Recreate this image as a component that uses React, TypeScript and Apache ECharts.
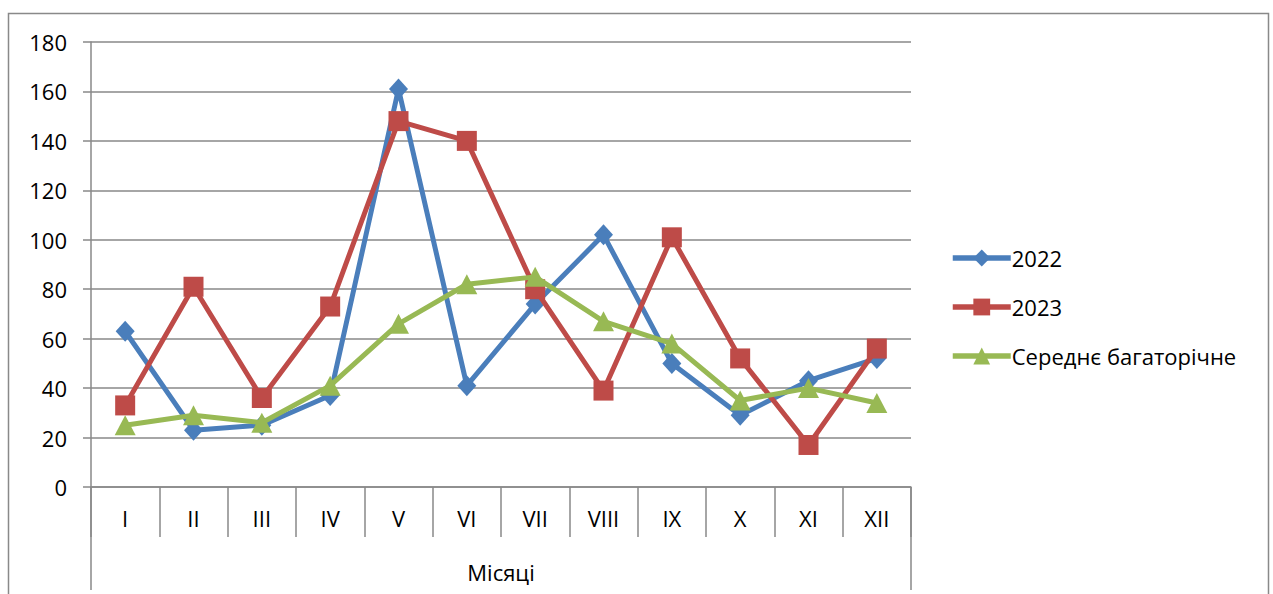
import React, { useEffect, useRef } from "react";
import * as echarts from "echarts";

const months = ["I", "II", "III", "IV", "V", "VI", "VII", "VIII", "IX", "X", "XI", "XII"];
const values2022 = [63, 23, 25, 37, 161, 41, 74, 102, 50, 29, 43, 52];
const values2023 = [33, 81, 36, 73, 148, 140, 80, 39, 101, 52, 17, 56];
const valuesAvg = [25, 29, 26, 41, 66, 82, 85, 67, 58, 35, 40, 34];
const seriesNames = ["2022", "2023", "Середнє багаторічне"];
const axisName = "Місяці";

const FONT = "'Open Sans', 'Noto Sans', sans-serif";
const FONT_SIZE = 22;
const GRAY = "#898989";

export default function App() {
  const ref = useRef<HTMLDivElement>(null);

  useEffect(() => {
    if (!ref.current) return;
    const chart = echarts.init(ref.current, null, { renderer: "svg" });
    const gridLeft = 91;
    const gridRight = 911;
    const gridTop = 42;
    const gridBottom = 487;

    chart.setOption({
      animation: false,
      backgroundColor: "#fff",
      textStyle: { fontFamily: FONT },
      grid: {
        left: gridLeft,
        top: gridTop,
        width: gridRight - gridLeft,
        height: gridBottom - gridTop,
        containLabel: false,
      },
      legend: {
        orient: "vertical",
        left: 945,
        top: 242,
        itemWidth: 58,
        itemHeight: 21,
        itemGap: 27,
        lineStyle: { width: 5.5 },
        textStyle: { fontFamily: FONT, fontSize: FONT_SIZE, color: "#000", padding: [0, 0, 0, -4] },
        data: seriesNames,
      },
      xAxis: {
        type: "category",
        data: months,
        boundaryGap: true,
        name: axisName,
        nameLocation: "middle",
        nameGap: 74,
        nameTextStyle: { fontFamily: FONT, fontSize: FONT_SIZE, color: "#000" },
        axisLine: { show: true, lineStyle: { color: GRAY, width: 1.5 } },
        axisTick: { show: true, length: 50, lineStyle: { color: GRAY, width: 1.5 } },
        axisLabel: { fontFamily: FONT, fontSize: FONT_SIZE, color: "#000", margin: 20 },
        splitLine: { show: false },
      },
      yAxis: {
        type: "value",
        min: 0,
        max: 180,
        interval: 20,
        axisLine: { show: true, lineStyle: { color: GRAY, width: 1.5 } },
        axisTick: { show: true, length: 8, lineStyle: { color: GRAY, width: 1.5 } },
        axisLabel: { fontFamily: FONT, fontSize: FONT_SIZE, color: "#000", margin: 24 },
        splitLine: { show: true, lineStyle: { color: GRAY, width: 1.5 } },
      },
      graphic: [
        {
          type: "rect",
          shape: { x: 8.5, y: 13.5, width: 1260, height: 700 },
          style: { fill: "none", stroke: GRAY, lineWidth: 1.5 },
          silent: true,
        },
        {
          type: "line",
          shape: { x1: gridLeft, y1: gridBottom, x2: gridLeft, y2: 590 },
          style: { stroke: GRAY, lineWidth: 1.5 },
          silent: true,
        },
        {
          type: "line",
          shape: { x1: gridRight, y1: gridBottom, x2: gridRight, y2: 590 },
          style: { stroke: GRAY, lineWidth: 1.5 },
          silent: true,
        },
      ],
      series: [
        {
          name: seriesNames[0],
          type: "line",
          data: values2022,
          symbol: "diamond",
          symbolSize: [19, 21],
          lineStyle: { color: "#4a7ebb", width: 5 },
          itemStyle: { color: "#4a7ebb" },
          z: 2,
        },
        {
          name: seriesNames[1],
          type: "line",
          data: values2023,
          symbol: "rect",
          symbolSize: 20,
          lineStyle: { color: "#be4b48", width: 5 },
          itemStyle: { color: "#be4b48" },
          z: 3,
        },
        {
          name: seriesNames[2],
          type: "line",
          data: valuesAvg,
          symbol: "triangle",
          symbolSize: [21, 20],
          lineStyle: { color: "#98b954", width: 5 },
          itemStyle: { color: "#98b954" },
          z: 4,
        },
      ],
    });

    return () => chart.dispose();
  }, []);

  return (
    <div
      ref={ref}
      style={{ position: "fixed", left: 0, top: 0, width: 1273, height: 594 }}
    />
  );
}
